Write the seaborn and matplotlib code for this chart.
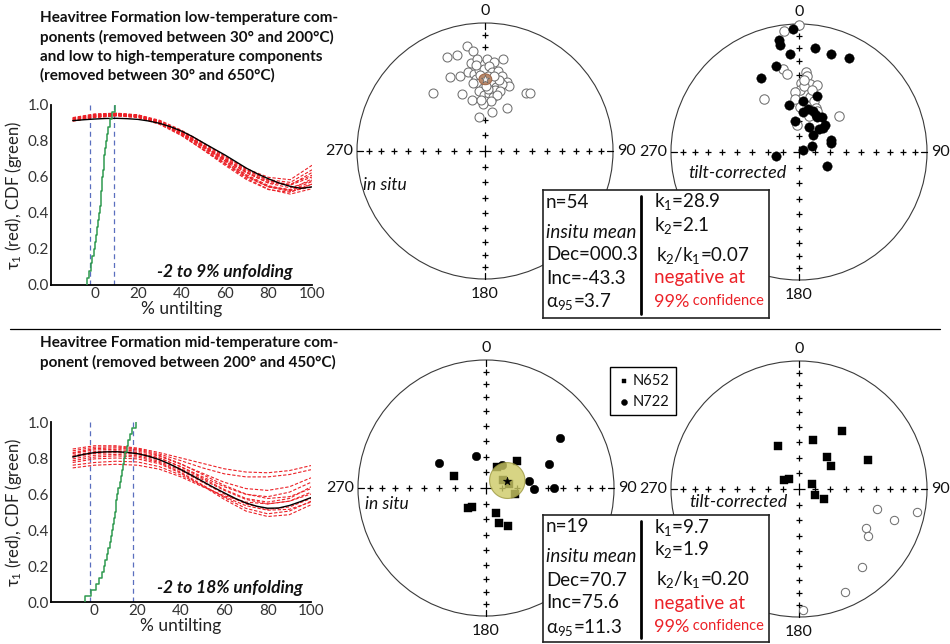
import numpy as np
import pandas as pd
import matplotlib
matplotlib.use("Agg")
import matplotlib.pyplot as plt
import seaborn as sns
from matplotlib.patches import Circle, Polygon
from matplotlib.lines import Line2D

sns.set_theme(style="white")
plt.rcParams.update({
    "font.family": ["Lato", "DejaVu Sans"],
    "mathtext.fontset": "custom",
    "mathtext.rm": "Lato",
    "mathtext.it": "Lato:italic",
    "mathtext.bf": "Lato:bold",
    "text.color": "#111111",
    "axes.labelcolor": "#222222",
    "xtick.color": "#333333",
    "ytick.color": "#333333",
})

RED = "#ec2127"
GREEN = "#2f9a4f"
BLUE = "#5a6fbf"

# ---------------------------------------------------------------- fold tests
UNTILT = [-10, 0, 10, 20, 30, 40, 50, 60, 70, 80, 90, 100]
UNTILT_FINE = [-10, -5, 0, 5, 10, 15, 20, 25, 30, 35, 40, 45,
               50, 55, 60, 65, 70, 75, 80, 85, 90, 95, 100]

# low-temperature components: bootstrap tau1 curves, data curve, peak positions
LOW_TAU1_BOOT = [
    [0.925, 0.945, 0.952, 0.945, 0.915, 0.860, 0.790, 0.715, 0.640, 0.580, 0.555, 0.600],
    [0.920, 0.940, 0.948, 0.940, 0.905, 0.848, 0.775, 0.700, 0.625, 0.565, 0.540, 0.580],
    [0.915, 0.935, 0.945, 0.935, 0.900, 0.840, 0.765, 0.688, 0.612, 0.552, 0.525, 0.560],
    [0.930, 0.950, 0.955, 0.945, 0.910, 0.850, 0.772, 0.690, 0.608, 0.545, 0.520, 0.545],
    [0.910, 0.930, 0.940, 0.932, 0.898, 0.842, 0.770, 0.695, 0.622, 0.568, 0.555, 0.625],
    [0.918, 0.938, 0.945, 0.936, 0.900, 0.835, 0.755, 0.672, 0.592, 0.532, 0.505, 0.535],
    [0.925, 0.942, 0.950, 0.942, 0.910, 0.855, 0.785, 0.712, 0.645, 0.598, 0.585, 0.665],
    [0.912, 0.932, 0.940, 0.930, 0.892, 0.830, 0.752, 0.675, 0.600, 0.545, 0.525, 0.575],
    [0.922, 0.944, 0.950, 0.938, 0.898, 0.832, 0.750, 0.665, 0.585, 0.530, 0.515, 0.560],
    [0.916, 0.936, 0.944, 0.938, 0.905, 0.848, 0.778, 0.705, 0.635, 0.585, 0.570, 0.640],
    [0.928, 0.948, 0.953, 0.942, 0.905, 0.842, 0.762, 0.680, 0.602, 0.548, 0.530, 0.590],
    [0.914, 0.934, 0.942, 0.935, 0.902, 0.845, 0.772, 0.698, 0.628, 0.575, 0.560, 0.610],
]
LOW_TAU1 = [0.913, 0.918, 0.922, 0.925, 0.926, 0.924, 0.920, 0.911, 0.898, 0.879, 0.855, 0.825,
            0.790, 0.756, 0.722, 0.685, 0.648, 0.617, 0.590, 0.566, 0.548, 0.537, 0.545]
LOW_PEAKS = [-3.4, -2.6, -1.8, -1.0, -0.4, 0.3, 0.8, 1.3, 1.8, 2.2, 2.5, 2.8, 3.1,
             3.3, 3.6, 3.9, 4.2, 4.5, 4.9, 5.3, 5.7, 6.2, 7.0, 8.2, 9.2]
LOW_BOUNDS = (-2, 9)

# mid-temperature component
MID_TAU1_BOOT = [
    [0.850, 0.868, 0.868, 0.855, 0.830, 0.800, 0.770, 0.740, 0.722, 0.718, 0.730, 0.758],
    [0.840, 0.860, 0.862, 0.850, 0.822, 0.785, 0.745, 0.712, 0.695, 0.695, 0.708, 0.735],
    [0.825, 0.845, 0.848, 0.838, 0.810, 0.765, 0.715, 0.665, 0.630, 0.620, 0.640, 0.690],
    [0.815, 0.835, 0.840, 0.830, 0.800, 0.752, 0.695, 0.640, 0.598, 0.585, 0.610, 0.665],
    [0.805, 0.825, 0.830, 0.820, 0.790, 0.740, 0.680, 0.620, 0.570, 0.545, 0.560, 0.610],
    [0.795, 0.815, 0.820, 0.812, 0.782, 0.730, 0.665, 0.600, 0.545, 0.515, 0.528, 0.575],
    [0.785, 0.805, 0.812, 0.805, 0.775, 0.720, 0.650, 0.580, 0.520, 0.490, 0.505, 0.560],
    [0.775, 0.795, 0.800, 0.795, 0.768, 0.715, 0.645, 0.570, 0.505, 0.475, 0.485, 0.540],
    [0.760, 0.775, 0.782, 0.778, 0.752, 0.705, 0.645, 0.585, 0.535, 0.510, 0.515, 0.555],
    [0.745, 0.760, 0.765, 0.760, 0.738, 0.695, 0.640, 0.590, 0.555, 0.545, 0.560, 0.600],
    [0.830, 0.852, 0.856, 0.845, 0.815, 0.768, 0.708, 0.648, 0.600, 0.575, 0.585, 0.630],
    [0.810, 0.830, 0.836, 0.828, 0.800, 0.750, 0.688, 0.625, 0.575, 0.555, 0.575, 0.640],
]
MID_TAU1 = [0.806, 0.820, 0.830, 0.834, 0.835, 0.831, 0.824, 0.810, 0.791, 0.765, 0.735, 0.703,
            0.670, 0.637, 0.606, 0.576, 0.550, 0.532, 0.521, 0.522, 0.536, 0.557, 0.580]
MID_PEAKS = [-4.5, -1.5, 0.8, 2.2, 3.4, 4.4, 5.1, 5.8, 6.4, 7.3, 7.8, 8.2, 8.7, 9.0, 9.4,
             9.8, 10.2, 10.6, 11.1, 11.7, 12.2, 12.8, 13.3, 13.8, 14.3, 15.0, 15.6, 16.3, 17.2, 19.0]
MID_BOUNDS = (-2, 18)

# ---------------------------------------------------------------- directions
LOW_INSITU_DEC = [350, 353, 338, 344, 351, 355, 1, 6, 11, 335, 342, 348, 352, 356, 359, 3, 5, 9,
                  13, 18, 20, 353, 355, 5, 10, 14, 358, 9, 14, 318, 338, 354, 359, 4, 8, 12, 35,
                  38, 346, 0, 7, 357, 27, 10, 350, 3, 356, 2, 350, 1, 11, 356, 7, 354]
LOW_INSITU_INC = [-18, -22, -22, -23, -31, -29, -29, -31, -28, -36, -38, -37, -39, -37, -36, -34,
                  -38, -37, -40, -43, -45, -43, -46, -45, -48, -45, -49, -50, -50, -39, -50, -51,
                  -54, -53, -55, -53, -44, -42, -56, -58, -58, -60, -59, -65, -68, -50, -40, -41,
                  -45, -48, -43, -57, -41, -33]
LOW_TILT_DEC = [0, 353, 349, 351, 5, 6, 2, 9, 15, 1, 356, 326, 356, 11, 17, 1, 21, 15, 24, 48,
                356, 4, 12, 4,
                357, 350, 350, 9, 355, 18, 28, 345, 333, 18, 4, 348, 12, 6, 19, 24, 33, 353, 23,
                45, 44, 40, 69, 74, 64, 62, 260, 116, 41, 28]
LOW_TILT_INC = [-1, -5, -34, -38, -37, -40, -45, -45, -45, -50, -51, -49, -56, -54, -56, -61, -60,
                -66, -61, -55, -73, -47, -49, -43,
                4, 12, 16, 19, 24, 21, 18, 31, 35, 52, 57, 59, 62, 64, 62, 64, 63, 70, 73, 68, 66,
                76, 68, 69, 81, 87, 75, 70, 71, 65]
LOW_MEAN = {"dec": 0.3, "inc": -43.3, "a95": 3.7}
LOW_K = (28.9, 2.1)

MID_SITE = ["N722"] * 8 + ["N652"] * 11
MID_INSITU_DEC = [298, 343, 34, 56, 69, 81, 91, 90,
                  290, 49, 27, 80, 101, 222, 217, 158, 159, 150, 65]
MID_INSITU_INC = [56, 69, 72, 31, 46, 62, 59, 46,
                  68, 64, 75, 75, 71, 73, 75, 73, 66, 62, 78]
MID_TILT_DEC = [104, 101, 108, 120, 124, 141, 156, 178,
                334, 16, 37, 41, 54, 67, 303, 313, 68, 109, 112]
MID_TILT_INC = [-37, -7, -23, -39, -35, -23, -13, -6,
                59, 57, 43, 63, 65, 41, 79, 81, 81, 79, 73]
MID_MEAN = {"dec": 70.7, "inc": 75.6, "a95": 11.3}
MID_K = (9.7, 1.9)

TITLE_LOW = ("Heavitree Formation low-temperature com-\n"
             "ponents (removed between 30° and 200°C)\n"
             "and low to high-temperature components\n"
             "(removed between 30° and 650°C)")
TITLE_MID = ("Heavitree Formation mid-temperature com-\n"
             "ponent (removed between 200° and 450°C)")

# ---------------------------------------------------------------- layout
W, H = 950, 644
fig = plt.figure(figsize=(W / 100, H / 100), dpi=100)
fig.patch.set_facecolor("white")


def px_axes(left, top, right, bottom):
    return fig.add_axes([left / W, 1 - bottom / H, (right - left) / W, (bottom - top) / H])


def fold_test(box, boot, tau1, peaks, bounds, note_y):
    ax = px_axes(*box)
    height = box[3] - box[1]
    width = box[2] - box[0]
    for b in bounds:
        ax.axvline(b, color=BLUE, lw=0.9, linestyle=(0, (4, 3)), zorder=1)
    frame = pd.DataFrame(
        [(k, x, t) for k, curve in enumerate(boot) for x, t in zip(UNTILT, curve)],
        columns=["boot", "untilt", "tau"])
    sns.lineplot(data=frame, x="untilt", y="tau", units="boot", estimator=None,
                 color=RED, lw=0.8, linestyle=(0, (3, 1.6)), legend=False, ax=ax, zorder=2)
    sns.lineplot(x=UNTILT_FINE, y=tau1, color="black", lw=1.0, ax=ax, zorder=3)
    sns.ecdfplot(x=peaks, color=GREEN, lw=1.1, ax=ax, zorder=4)
    ax.set_xlim(-20, 100)
    ax.set_ylim(0, 1)
    ax.set_xticks([0, 20, 40, 60, 80, 100])
    ax.set_yticks([0, 0.2, 0.4, 0.6, 0.8, 1.0])
    ax.yaxis.set_major_formatter("{x:.1f}")
    ax.tick_params(direction="in", length=2.5, width=0.8, labelsize=11, pad=1.5)
    ax.set_xlabel("% untilting", fontsize=12.5)
    ax.set_ylabel("τ$_1$ (red), CDF (green)", fontsize=12)
    ax.xaxis.set_label_coords(0.5, -16 / height)
    ax.yaxis.set_label_coords(-27 / width, 0.5)
    sns.despine(ax=ax)
    for s in ("left", "bottom"):
        ax.spines[s].set_linewidth(1.3)
        ax.spines[s].set_color("black")
    ax.text(28.7, note_y, f"{bounds[0]} to {bounds[1]}% unfolding", fontsize=12.5,
            weight="bold", style="italic", ha="left", va="center")
    return ax


fold_test((51, 105, 312, 285), LOW_TAU1_BOOT, LOW_TAU1, LOW_PEAKS, LOW_BOUNDS, 0.075)
fold_test((51, 422, 311, 602), MID_TAU1_BOOT, MID_TAU1, MID_PEAKS, MID_BOUNDS, 0.078)

fig.text(40 / W, 1 - 11 / H, TITLE_LOW, fontsize=11, weight="bold", va="top", ha="left",
         linespacing=1.42)
fig.text(40 / W, 1 - 336 / H, TITLE_MID, fontsize=11, weight="bold", va="top", ha="left",
         linespacing=1.42)
fig.add_artist(Line2D([10 / W, 940 / W], [1 - 329 / H] * 2, color="black", lw=0.9))

# ---------------------------------------------------------------- stereonets
R_PX = 128
PAD = 24


def project(dec, inc):
    d = np.radians(np.asarray(dec, float))
    r = np.sqrt(2) * np.sin(np.radians(90 - np.abs(np.asarray(inc, float))) / 2)
    return r * np.sin(d), r * np.cos(d)


def small_circle(dec, inc, radius, n=181):
    d, i = np.radians(dec), np.radians(inc)
    m = np.array([np.cos(i) * np.cos(d), np.cos(i) * np.sin(d), np.sin(i)])
    ref = np.array([0.0, 0.0, 1.0]) if abs(m[2]) < 0.9 else np.array([1.0, 0.0, 0.0])
    u = np.cross(m, ref)
    u /= np.linalg.norm(u)
    v = np.cross(m, u)
    t = np.linspace(0, 2 * np.pi, n)
    a = np.radians(radius)
    p = np.cos(a) * m[:, None] + np.sin(a) * (u[:, None] * np.cos(t) + v[:, None] * np.sin(t))
    return project(np.degrees(np.arctan2(p[1], p[0])), np.degrees(np.arcsin(p[2])))


def net(cx, cy, label, label_dx, label_dy, label_size):
    ax = px_axes(cx - R_PX - PAD, cy - R_PX - PAD, cx + R_PX + PAD, cy + R_PX + PAD)
    ax.axis("off")
    ax.add_patch(Circle((0, 0), 1, fill=False, lw=0.8, ec="#3a3a3a", zorder=1))
    incs = [10, 20, 30, 40, 50, 60, 70, 80]
    for az in (0, 90, 180, 270):
        x, y = project([az] * len(incs), incs)
        ax.plot(x, y, "+", ms=5, mew=0.9, color="black", zorder=1)
        sx, sy = np.sin(np.radians(az)), np.cos(np.radians(az))
        ax.plot([sx, sx * (1 - 6 / R_PX)], [sy, sy * (1 - 6 / R_PX)], color="black", lw=0.9)
    ax.plot(0, 0, "+", ms=8, mew=0.9, color="black", zorder=1)
    k = 1 / R_PX
    ax.text(0, 1 + 12 * k, "0", ha="center", va="center", fontsize=11.5)
    ax.text(0, -1 - 15 * k, "180", ha="center", va="center", fontsize=11.5)
    ax.text(1 + 4 * k, 0, "90", ha="left", va="center", fontsize=11.5)
    ax.text(-1 - 4 * k, 0, "270", ha="right", va="center", fontsize=11.5)
    ax.text(label_dx * k, -label_dy * k, label, style="italic", ha="left", va="center",
            fontsize=label_size)
    return ax


def plot_dirs(ax, dec, inc, marker="o", s=44, label=None):
    x, y = project(dec, inc)
    df = pd.DataFrame({"x": x, "y": y, "lower": np.asarray(inc) >= 0})
    up, lo = df[~df.lower], df[df.lower]
    if len(up):
        sns.scatterplot(data=up, x="x", y="y", marker=marker, s=s, color="white",
                        edgecolor="#707070", linewidth=0.75, ax=ax, zorder=2)
    if len(lo):
        sns.scatterplot(data=lo, x="x", y="y", marker=marker, s=s, color="black",
                        edgecolor="black", linewidth=0.3, ax=ax, zorder=2, label=label)


def mean_cone(ax, mean, face, edge, alpha, star_face, star_edge):
    x, y = small_circle(mean["dec"], mean["inc"], mean["a95"])
    ax.add_patch(Polygon(np.column_stack([x, y]), closed=True, fc=face, ec=edge, lw=0.8,
                         alpha=alpha, zorder=3))
    mx, my = project([mean["dec"]], [mean["inc"]])
    ax.scatter(mx, my, marker="*", s=38, c=star_face, edgecolors=star_edge, linewidths=0.4,
               zorder=4)


# low-temperature components
ax1 = net(485, 151, "in situ", -122, 34, 12.5)
plot_dirs(ax1, LOW_INSITU_DEC, LOW_INSITU_INC, s=42)
mean_cone(ax1, LOW_MEAN, "#b98a6c", "#a06a4c", 1.0, "#f2f2f2", "#555555")

ax2 = net(799, 152, "tilt-corrected", -111, 21, 13)
plot_dirs(ax2, LOW_TILT_DEC, LOW_TILT_INC, s=46)

# mid-temperature component
ax3 = net(486, 488, "in situ", -121, 16, 12.5)
mid_in = pd.DataFrame({"site": MID_SITE, "dec": MID_INSITU_DEC, "inc": MID_INSITU_INC})
for site, mk, s in (("N652", "s", 26), ("N722", "o", 38)):
    sub = mid_in[mid_in.site == site]
    plot_dirs(ax3, sub.dec.values, sub.inc.values, marker=mk, s=s, label=site)
mean_cone(ax3, MID_MEAN, "#cdca66", "#9c9840", 0.8, "black", "black")
leg = ax3.legend(loc="upper left", bbox_to_anchor=(610 / W, 1 - 367 / H),
                 bbox_transform=fig.transFigure, frameon=True, fancybox=False,
                 edgecolor="black", framealpha=1, fontsize=10.5, handletextpad=0.1,
                 borderpad=0.45, labelspacing=0.5, handlelength=1.0, borderaxespad=0,
                 markerscale=0.7)
leg.get_frame().set_linewidth(1.0)

ax4 = net(799, 489, "tilt-corrected", -110, 13, 13)
mid_tc = pd.DataFrame({"site": MID_SITE, "dec": MID_TILT_DEC, "inc": MID_TILT_INC})
for site, mk, s in (("N652", "s", 30), ("N722", "o", 36)):
    sub = mid_tc[mid_tc.site == site]
    plot_dirs(ax4, sub.dec.values, sub.inc.values, marker=mk, s=s)

lim = (R_PX + PAD) / R_PX
for a in (ax1, ax2, ax3, ax4):
    a.set_xlim(-lim, lim)
    a.set_ylim(-lim, lim)
for a in (ax1, ax2, ax4):
    if a.get_legend() is not None:
        a.get_legend().remove()


# ---------------------------------------------------------------- statistics boxes
def stat_box(top, bottom, n, mean, k, dec_fmt):
    left, right = 543, 769
    bx = px_axes(left, top, right, bottom)
    bx.set_xlim(left, right)
    bx.set_ylim(bottom, top)
    bx.set_xticks([])
    bx.set_yticks([])
    bx.set_facecolor("white")
    for s in bx.spines.values():
        s.set_visible(True)
        s.set_linewidth(1.2)
        s.set_color("#222222")
    bx.plot([641, 641], [top + 6, bottom - 4], color="black", lw=2)
    fs = 13.5
    lx, rx = 546, 654
    rows = [12, 42, 65, 88, 112]
    bx.text(lx, top + rows[0], f"n={n}", fontsize=fs, va="center")
    bx.text(lx, top + rows[1], "insitu mean", fontsize=fs, style="italic", va="center")
    bx.text(lx, top + rows[2], "Dec=" + format(mean["dec"], dec_fmt), fontsize=fs, va="center")
    bx.text(lx, top + rows[3], f"Inc={mean['inc']:.1f}", fontsize=fs, va="center")
    bx.text(lx, top + rows[4], f"α$_{{95}}$={mean['a95']:.1f}", fontsize=fs, va="center")
    bx.text(rx, top + 12, f"k$_1$={k[0]:.1f}", fontsize=fs, va="center")
    bx.text(rx, top + 35, f"k$_2$={k[1]:.1f}", fontsize=fs, va="center")
    bx.text(rx + 2, top + rows[2], f"k$_2$/k$_1$={k[1] / k[0]:.2f}", fontsize=fs, va="center")
    bx.text(rx, top + rows[3], "negative at", fontsize=fs, color=RED, va="center")
    t99 = bx.text(rx, top + rows[4], "99%", fontsize=13, color=RED, va="center")
    bx.annotate(" confidence", xy=(1, 0.12), xycoords=t99, fontsize=10.5, color=RED,
                va="bottom", ha="left")


stat_box(190, 318, len(LOW_INSITU_DEC), LOW_MEAN, LOW_K, "05.1f")
stat_box(515, 642, len(MID_INSITU_DEC), MID_MEAN, MID_K, ".1f")

fig.savefig("out.png", dpi=100, facecolor="white")
